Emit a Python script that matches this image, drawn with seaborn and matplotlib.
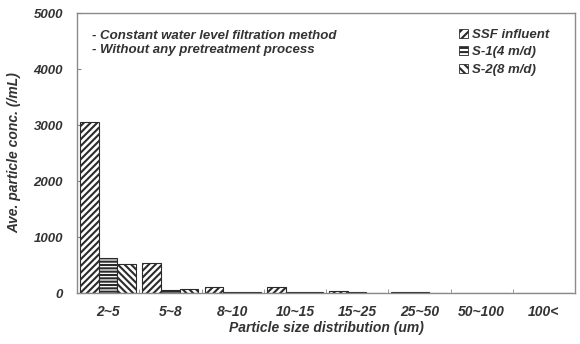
import matplotlib
matplotlib.use("Agg")
import matplotlib.pyplot as plt
import seaborn as sns
import pandas as pd
import numpy as np
from matplotlib.patches import Patch

categories = ["2~5", "5~8", "8~10", "10~15", "15~25", "25~50", "50~100", "100<"]
series_names = ["SSF influent", "S-1(4 m/d)", "S-2(8 m/d)"]
ssf_influent = [3050, 530, 110, 100, 35, 20, 3, 2]
s1 = [620, 55, 15, 20, 15, 10, 2, 1]
s2 = [510, 80, 10, 15, 5, 5, 1, 1]
y_ticks = [0, 1000, 2000, 3000, 4000, 5000]

rows = []
for name, vals in zip(series_names, [ssf_influent, s1, s2]):
    for c, v in zip(categories, vals):
        rows.append({"cat": c, "series": name, "value": v})
df = pd.DataFrame(rows)

sns.set_style("white")
plt.rcParams['font.family'] = ['Liberation Sans', 'DejaVu Sans']
plt.rcParams['hatch.color'] = '#2b2b2b'
plt.rcParams['hatch.linewidth'] = 1.5

fig = plt.figure(figsize=(5.8, 3.44), dpi=100)
ax = fig.add_axes([77/580, 1-293/344, (575-77)/580, (293-13)/344])

sns.barplot(data=df, x="cat", y="value", hue="series", order=categories,
            hue_order=series_names, ax=ax, legend=False, width=0.9,
            palette=["white"]*3, edgecolor='#2b2b2b', linewidth=0.8, saturation=1)

hatches = ['/////', '-----', '\\\\\\\\\\']
for cont, h in zip(ax.containers, hatches):
    for bar in cont:
        bar.set_hatch(h)
        bar.set_facecolor('white')

txtc = '#333333'
font = dict(fontweight='bold', fontstyle='italic', color=txtc)
ax.set_ylim(0, 5000)
ax.set_xlim(-0.5, len(categories) - 0.5)
ax.set_yticks(y_ticks)
ax.set_yticklabels([str(t) for t in y_ticks], fontsize=9.5, **font)
ax.set_xticks(range(len(categories)))
ax.set_xticklabels(categories, fontsize=10, **font)
ax.set_xticks(np.arange(0.5, len(categories) - 0.5, 1), minor=True)
ax.tick_params(axis='x', which='major', length=0, pad=9)
ax.tick_params(axis='x', which='minor', direction='in', length=3, color='#888888', bottom=True)
ax.tick_params(axis='y', direction='in', length=3, color='#888888', pad=10, left=True)

ax.set_xlabel("Particle size distribution (um)", fontsize=10, labelpad=1, **font)
ax.set_ylabel("Ave. particle conc. (/mL)", fontsize=10, labelpad=9, **font)

for s in ax.spines.values():
    s.set_color('#8a8a8a')
    s.set_linewidth(1.0)

ax.text(0.03, 0.94, "- Constant water level filtration method\n- Without any pretreatment process",
        transform=ax.transAxes, fontsize=9.5, va='top', ha='left', linespacing=1.3, **font)

handles = [Patch(facecolor='white', edgecolor='#2b2b2b', hatch=h, linewidth=0.6)
           for h in ['////', '----', '\\\\\\\\']]
leg = ax.legend(handles, series_names, loc='upper left', bbox_to_anchor=(452/580, 1-22/344),
                bbox_transform=fig.transFigure, frameon=False, handlelength=0.7,
                handleheight=0.7, handletextpad=0.35, labelspacing=0.4, borderpad=0,
                prop={'size': 9.5, 'weight': 'bold', 'style': 'italic'})
for t in leg.get_texts():
    t.set_color(txtc)

fig.savefig("out.png", dpi=100)
